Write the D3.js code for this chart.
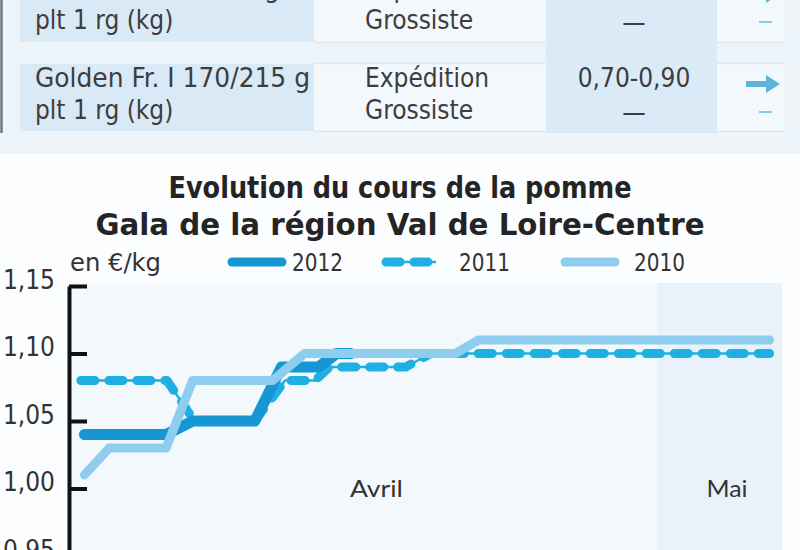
<!DOCTYPE html>
<html><head><meta charset="utf-8">
<script src="https://cdn.jsdelivr.net/npm/d3@7"></script>
<style>
html,body{margin:0;padding:0;background:#fbfdff;}
svg{display:block;}
</style></head><body>
<svg id="c" width="800" height="550"></svg>
<script>
// ---------- data ----------
const seriesNames = ["2012", "2011", "2010"];
// x = days since 29 March
const days2012   = [0.7, 5.3, 6.8, 10.3, 11.8, 13.9, 14.9, 15.7];
const values2012 = [1.04, 1.04, 1.05, 1.05, 1.09, 1.09, 1.10, 1.10];
const days2011   = [0.5, 5.35, 6.9, 10.3, 12.0, 13.7, 14.5, 18.8, 20.2, 39.3];
const values2011 = [1.08, 1.08, 1.05, 1.05, 1.08, 1.08, 1.09, 1.09, 1.10, 1.10];
const days2010   = [0.7, 2.1, 5.3, 6.8, 11.3, 13.1, 21.6, 22.9, 39.3];
const values2010 = [1.01, 1.03, 1.03, 1.08, 1.08, 1.10, 1.10, 1.11, 1.11];
const yTicks = [0.95, 1.00, 1.05, 1.10, 1.15];
const monthLabels = ["Avril", "Mai"];
const monthCenters = [17.15, 36.9];
const maiStart = 33, maiEnd = 40;
const titleLines = ["Evolution du cours de la pomme", "Gala de la région Val de Loire-Centre"];
const unitLabel = "en €/kg";
// table (top of the page)
const rowProduit = [["Gala Fr. I 170/215 g", "plt 1 rg (kg)"], ["Golden Fr. I 170/215 g", "plt 1 rg (kg)"]];
const rowMarche  = [["Expédition", "Grossiste"], ["Expédition", "Grossiste"]];
const rowPrix    = [["0,90-1,00", "—"], ["0,70-0,90", "—"]];

// ---------- drawing ----------
const svg = d3.select("#c");
const FONT = "'Liberation Sans Narrow','DejaVu Sans Condensed','Roboto Condensed','DejaVu Sans',sans-serif";
const colors = {"2012": "#1796d4", "2011": "#1fb0e3", "2010": "#8ecdee"};

svg.append("rect").attr("width", 800).attr("height", 550).attr("fill", "#fbfdff");

// table block
const tb = svg.append("g");
tb.append("rect").attr("x", 0).attr("y", 0).attr("width", 800).attr("height", 154).attr("fill", "#eef5fa");
const rowTop = [-40, 64], rowBot = [42, 131];
const lineY = [[-12, 20], [78, 110]];
rowTop.forEach((t, i) => {
  tb.append("rect").attr("x", 20).attr("y", t).attr("width", 294).attr("height", rowBot[i] - t).attr("fill", "#dae9f6");
  tb.append("rect").attr("x", 314).attr("y", t).attr("width", 232).attr("height", rowBot[i] - t).attr("fill", "#f3f8fc");
  tb.append("rect").attr("x", 717).attr("y", t).attr("width", 68).attr("height", rowBot[i] - t).attr("fill", "#f3f8fc");
  tb.append("line").attr("x1", 314).attr("x2", 785).attr("y1", rowBot[i] + 0.5).attr("y2", rowBot[i] + 0.5).attr("stroke", "#dfe7ee").attr("stroke-width", 1.5);
});
tb.append("line").attr("x1", 314).attr("x2", 785).attr("y1", 63.5).attr("y2", 63.5).attr("stroke", "#dfe7ee").attr("stroke-width", 1.5);
tb.append("rect").attr("x", 546).attr("y", 0).attr("width", 171).attr("height", 133).attr("fill", "#dbeaf7");
tb.append("line").attr("x1", 1.5).attr("x2", 1.5).attr("y1", 0).attr("y2", 133).attr("stroke", "#6c7a86").attr("stroke-width", 2.5);

const tCol = "#3d3d3d";
rowProduit.forEach((r, i) => r.forEach((s, j) => {
  const t = tb.append("text").attr("x", 35).attr("y", lineY[i][j] + 9)
    .attr("font-family", FONT).attr("font-size", 26).attr("fill", tCol).text(s);
  if (j === 0) t.attr("textLength", i === 0 ? 245 : 275).attr("lengthAdjust", "spacingAndGlyphs");
}));
rowMarche.forEach((r, i) => r.forEach((s, j) => tb.append("text").attr("x", 365).attr("y", lineY[i][j] + 9)
  .attr("font-family", FONT).attr("font-size", 26).attr("fill", tCol).text(s)));
rowPrix.forEach((r, i) => r.forEach((s, j) => tb.append("text").attr("x", 634).attr("y", lineY[i][j] + (j ? 11 : 9))
  .attr("text-anchor", "middle").attr("font-family", FONT).attr("font-size", 26).attr("fill", tCol).text(s)));
// trend arrows and dashes
lineY.forEach((ly, i) => {
  const cy = ly[0] + 6;
  tb.append("path").attr("d", `M746,${cy - 3}h20v-6l14,9l-14,9v-6h-20z`).attr("fill", "#5fb4de");
  tb.append("line").attr("x1", 759).attr("x2", 772).attr("y1", ly[1] + 2).attr("y2", ly[1] + 2)
    .attr("stroke", "#8cc9ea").attr("stroke-width", 2);
});

// title
const titleW = [463, 609];
titleLines.forEach((s, i) => svg.append("text").attr("x", 400).attr("y", 198 + i * 37)
  .attr("text-anchor", "middle").attr("font-family", FONT).attr("font-weight", "bold")
  .attr("font-size", 31).attr("fill", "#242424")
  .attr("textLength", titleW[i]).attr("lengthAdjust", "spacingAndGlyphs").text(s));

// scales
const x = d3.scaleLinear().domain([0, 40]).range([72, 782]);
const y = d3.scaleLinear().domain([0.95, 1.15]).range([556, 286]);

// plot background
svg.append("rect").attr("x", x(0)).attr("y", 283).attr("width", x(40) - x(0)).attr("height", 280).attr("fill", "#f3f8fd");
svg.append("rect").attr("x", x(maiStart)).attr("y", 283).attr("width", x(maiEnd) - x(maiStart)).attr("height", 280).attr("fill", "#e8f2fa");

// month labels
const monthW = [53, 41];
monthLabels.forEach((m, i) => svg.append("text").attr("x", x(monthCenters[i])).attr("y", 497)
  .attr("text-anchor", "middle").attr("font-family", "Lato, 'Open Sans', sans-serif").attr("font-size", 24)
  .attr("textLength", monthW[i]).attr("lengthAdjust", "spacingAndGlyphs")
  .attr("fill", "#333").text(m));

// y axis
const fmt = v => d3.format(".2f")(v).replace(".", ",");
const yAxis = d3.axisLeft(y).tickValues(yTicks).tickFormat(fmt).tickSizeInner(-18).tickSizeOuter(0).tickPadding(14);
const ga = svg.append("g").attr("transform", "translate(69,0)").call(yAxis);
ga.select(".domain").attr("stroke", "#111").attr("stroke-width", 4);
ga.selectAll(".tick line").attr("stroke", "#111").attr("stroke-width", 4);
ga.selectAll(".tick text").attr("font-family", FONT).attr("font-size", 26).attr("fill", "#333").attr("y", -6);

// lines
const mk = (ds, vs) => ds.map((d, i) => ({d, v: vs[i]}));
const line = d3.line().x(p => x(p.d)).y(p => y(p.v));
const data = {"2012": mk(days2012, values2012), "2011": mk(days2011, values2011), "2010": mk(days2010, values2010)};
const lg = svg.append("g").attr("fill", "none").attr("stroke-linejoin", "round");
// 2011 : thin line + thick dashes
lg.append("path").attr("d", line(data["2011"])).attr("stroke", colors["2011"]).attr("stroke-width", 2.5);
lg.append("path").attr("d", line(data["2011"])).attr("stroke", colors["2011"]).attr("stroke-width", 9)
  .attr("stroke-dasharray", "14,14").attr("stroke-linecap", "round");
lg.append("path").attr("d", line(data["2012"])).attr("stroke", colors["2012"]).attr("stroke-width", 11).attr("stroke-linecap", "round");
lg.append("path").attr("d", line(data["2010"])).attr("stroke", colors["2010"]).attr("stroke-width", 9).attr("stroke-linecap", "round");

// legend
svg.append("text").attr("x", 70).attr("y", 271).attr("font-family", FONT).attr("font-size", 25).attr("fill", "#333")
  .attr("textLength", 91).attr("lengthAdjust", "spacingAndGlyphs").text(unitLabel);
const leg = svg.append("g");
const swX = [229, 382, 562], txX = [292, 459, 634];
seriesNames.forEach((s, i) => {
  if (s === "2011") {
    leg.append("line").attr("x1", swX[i]).attr("x2", swX[i] + 54).attr("y1", 262).attr("y2", 262)
      .attr("stroke", colors[s]).attr("stroke-width", 2.5);
    leg.append("line").attr("x1", swX[i] + 4).attr("x2", swX[i] + 46).attr("y1", 262).attr("y2", 262)
      .attr("stroke", colors[s]).attr("stroke-width", 9).attr("stroke-dasharray", "14,14").attr("stroke-linecap", "round");
  } else {
    leg.append("line").attr("x1", swX[i] + 3).attr("x2", swX[i] + 53).attr("y1", 262).attr("y2", 262)
      .attr("stroke", colors[s]).attr("stroke-width", 9).attr("stroke-linecap", "round");
  }
  leg.append("text").attr("x", txX[i]).attr("y", 271).attr("font-family", FONT).attr("font-size", 25)
    .attr("textLength", 51).attr("lengthAdjust", "spacingAndGlyphs")
    .attr("fill", "#333").text(s);
});
</script>
</body></html>
